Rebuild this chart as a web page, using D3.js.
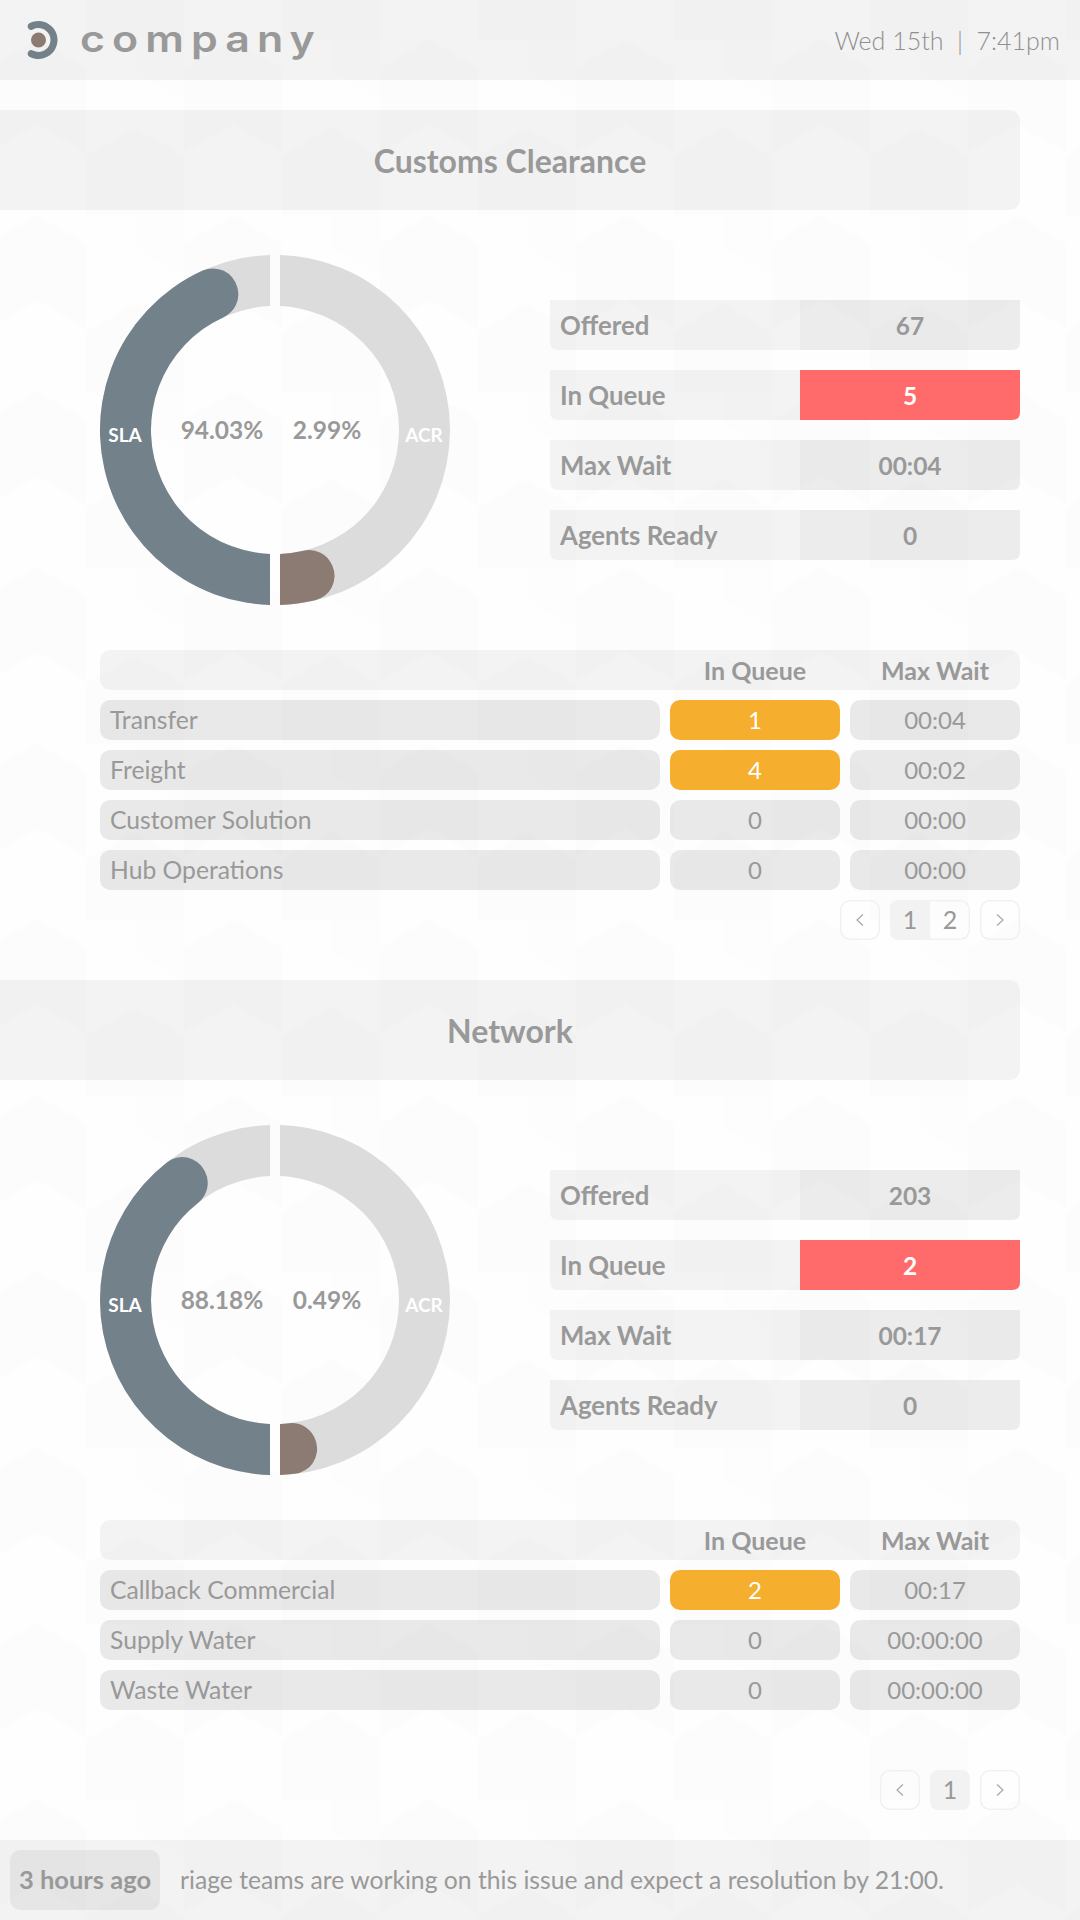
<!DOCTYPE html>
<html><head><meta charset="utf-8">
<style>html,body{margin:0;padding:0;background:#fff}svg{display:block}text{font-family:Lato,"Noto Sans",sans-serif}</style>
<script src="https://cdn.jsdelivr.net/npm/d3@7"></script></head><body>
<svg id="c" width="1080" height="1920"></svg>
<script>
// ---- data ----
const sectionTitles = ["Customs Clearance", "Network"];
const slaValues = [94.03, 88.18];
const acrValues = [2.99, 0.49];
const statLabels = ["Offered", "In Queue", "Max Wait", "Agents Ready"];
const statValues = [["67", "5", "00:04", "0"], ["203", "2", "00:17", "0"]];
const queueNames = [["Transfer", "Freight", "Customer Solution", "Hub Operations"], ["Callback Commercial", "Supply Water", "Waste Water"]];
const queueCounts = [[1, 4, 0, 0], [2, 0, 0]];
const queueWaits = [["00:04", "00:02", "00:00", "00:00"], ["00:17", "00:00:00", "00:00:00"]];
const tableHeads = ["In Queue", "Max Wait"];
const pageLists = [["1", "2"], ["1"]];
const dateText = "Wed 15th  |  7:41pm";
const footerAge = "3 hours ago";
const footerMsg = "riage teams are working on this issue and expect a resolution by 21:00.";

// ---- palette ----
const GREY = "#999", RING = "#dcdcdc", SLA = "#72818a", ACR = "#8c7b73", RED = "#ff6b6b", GOLD = "#f5ae2d";
const svg = d3.select("#c");
const defs = svg.append("defs");

// background texture
const pat = defs.append("pattern").attr("id", "tex").attr("patternUnits", "userSpaceOnUse")
  .attr("width", 196).attr("height", 176).attr("x", -12).attr("y", 40);
pat.append("rect").attr("width", 196).attr("height", 176).attr("fill", "#fefefe");
pat.append("path").attr("fill", "rgba(0,0,0,.007)").attr("d", "M0 28L49 0L98 28V112L49 84L0 112Z");
pat.append("path").attr("fill", "rgba(0,0,0,.007)").attr("d", "M98 116L147 88L196 116V176H98Z");
pat.append("path").attr("fill", "rgba(0,0,0,.005)").attr("d", "M147 0H196V60L147 30Z");
svg.append("rect").attr("width", 1080).attr("height", 1920).attr("fill", "url(#tex)");

function bottomRound(x, y, w, h, rl, rr) {
  const p = d3.path();
  p.moveTo(x, y); p.lineTo(x + w, y); p.lineTo(x + w, y + h - rr);
  p.quadraticCurveTo(x + w, y + h, x + w - rr, y + h);
  p.lineTo(x + rl, y + h); p.quadraticCurveTo(x, y + h, x, y + h - rl); p.closePath();
  return p.toString();
}
function label(g, str, x, y, size, weight, fill, anchor) {
  return g.append("text").text(str).attr("x", x).attr("y", y).attr("dy", ".35em")
    .attr("font-size", size).attr("font-weight", weight).attr("fill", fill).attr("text-anchor", anchor || "middle");
}

// header
svg.append("rect").attr("width", 1080).attr("height", 80).attr("fill", "rgba(0,0,0,.042)");
const logo = svg.append("g").attr("transform", "translate(38.5,40)");
logo.append("path").attr("fill", SLA).attr("d", d3.arc().innerRadius(12).outerRadius(19).cornerRadius(3.4)
  .startAngle(-0.72).endAngle(Math.PI + 0.72)());
logo.append("circle").attr("r", 7.5).attr("fill", ACR);
svg.append("text").text("company").attr("transform", "translate(80,52) scale(1.16,1)")
  .attr("font-size", 37).attr("font-weight", 600)
  .attr("fill", GREY).attr("letter-spacing", 6.1).style("font-family", "Inter");
label(svg, dateText, 1060, 41, 25, 300, "#8f8f8f", "end").style("white-space", "pre");

// donut geometry
const R0 = 124, R1 = 175;
const band = d3.arc().innerRadius(R0).outerRadius(R1);
const rounded = d3.arc().innerRadius(R0).outerRadius(R1).cornerRadius(25);
// value -> degrees swept along a half ring
const sweep = d3.scaleLinear().domain([0, 2.99, 88.18, 94.03, 100]).range([14.8, 22.9, 151.4, 165.2, 180]);
const rad = d => d * Math.PI / 180;

["L", "R"].forEach(s => defs.append("clipPath").attr("id", "half" + s).append("rect")
  .attr("x", s === "L" ? -200 : 5).attr("y", -200).attr("width", 195).attr("height", 400));

sectionTitles.forEach((title, i) => {
  const oy = i * 870;
  const g = svg.append("g").attr("transform", `translate(0,${oy})`);

  // title panel
  g.append("rect").attr("x", -12).attr("y", 110).attr("width", 1032).attr("height", 100).attr("rx", 10)
    .attr("fill", "rgba(0,0,0,.042)");
  label(g, title, 510, 162, 32, 700, GREY);

  // donut
  const d = g.append("g").attr("transform", "translate(275,430)");
  const left = d.append("g").attr("clip-path", "url(#halfL)");
  const right = d.append("g").attr("clip-path", "url(#halfR)");
  left.append("path").attr("fill", RING).attr("d", band({ startAngle: 0, endAngle: 2 * Math.PI }));
  right.append("path").attr("fill", RING).attr("d", band({ startAngle: 0, endAngle: 2 * Math.PI }));
  left.append("path").attr("fill", SLA)
    .attr("d", rounded({ startAngle: Math.PI - 0.6, endAngle: Math.PI + rad(sweep(slaValues[i])) }));
  right.append("path").attr("fill", ACR)
    .attr("d", rounded({ startAngle: Math.PI - rad(sweep(acrValues[i])), endAngle: Math.PI + 0.6 }));
  label(d, "SLA", -150, 5, 19, 700, "#fff");
  label(d, "ACR", 149, 5, 19, 700, "#fff");
  label(d, slaValues[i].toFixed(2) + "%", -53, 0, 24.5, 700, GREY);
  label(d, acrValues[i].toFixed(2) + "%", 52, 0, 24.5, 700, GREY);

  // stat rows
  const stats = g.selectAll("g.stat").data(statLabels).join("g").attr("class", "stat")
    .attr("transform", (_, k) => `translate(0,${300 + k * 70})`);
  stats.append("path").attr("fill", "rgba(0,0,0,.042)").attr("d", bottomRound(550, 0, 250, 50, 8, 0));
  stats.append("path").attr("fill", (_, k) => k === 1 ? RED : "rgba(0,0,0,.072)").attr("d", bottomRound(800, 0, 220, 50, 0, 8));
  stats.each(function (lab, k) {
    const r = d3.select(this);
    label(r, lab, 560, 26, 25.8, 700, GREY, "start");
    label(r, statValues[i][k], 910, 26, 24.5, 700, k === 1 ? "#fff" : GREY);
  });

  // queue table
  g.append("rect").attr("x", 100).attr("y", 650).attr("width", 920).attr("height", 40).attr("rx", 10).attr("fill", "rgba(0,0,0,.042)");
  label(g, tableHeads[0], 755, 671, 25, 700, GREY);
  label(g, tableHeads[1], 935, 671, 25, 700, GREY);
  const rows = g.selectAll("g.row").data(queueNames[i]).join("g").attr("class", "row")
    .attr("transform", (_, k) => `translate(0,${700 + k * 50})`);
  rows.append("rect").attr("x", 100).attr("width", 560).attr("height", 40).attr("rx", 10).attr("fill", "rgba(0,0,0,.082)");
  rows.append("rect").attr("x", 670).attr("width", 170).attr("height", 40).attr("rx", 10)
    .attr("fill", (_, k) => queueCounts[i][k] > 0 ? GOLD : "rgba(0,0,0,.082)");
  rows.append("rect").attr("x", 850).attr("width", 170).attr("height", 40).attr("rx", 10).attr("fill", "rgba(0,0,0,.082)");
  rows.each(function (name, k) {
    const r = d3.select(this), q = queueCounts[i][k];
    label(r, name, 110, 20.5, 24.7, 400, GREY, "start");
    label(r, q, 755, 20.5, 24, 400, q > 0 ? "#fff" : GREY);
    label(r, queueWaits[i][k], 935, 20.5, 24, 400, GREY);
  });

  // pagination
  const pages = pageLists[i], n = pages.length;
  const pg = g.append("g").attr("transform", "translate(0,900)");
  const box = (x, w) => pg.append("rect").attr("x", x + .75).attr("y", .75).attr("width", w - 1.5).attr("height", 38.5).attr("rx", 9)
    .attr("fill", "none").attr("stroke", "#f1f1f1").attr("stroke-width", 1.5);
  const pagesX = 970 - n * 40;
  const prevX = pagesX - 50;
  box(prevX, 40); box(980, 40);
  box(pagesX, n * 40);
  pg.append("path").attr("fill", "#f2f2f2").attr("d", n === 1
    ? `M${pagesX + 9} 0H${pagesX + 31}Q${pagesX + 40} 0 ${pagesX + 40} 9V31Q${pagesX + 40} 40 ${pagesX + 31} 40H${pagesX + 9}Q${pagesX} 40 ${pagesX} 31V9Q${pagesX} 0 ${pagesX + 9} 0Z`
    : `M${pagesX + 9} 0H${pagesX + 40}V40H${pagesX + 9}Q${pagesX} 40 ${pagesX} 31V9Q${pagesX} 0 ${pagesX + 9} 0Z`);
  pages.forEach((p, k) => label(pg, p, pagesX + 20 + k * 40, 20, 25, 400, GREY));
  const chev = (cx, dir) => pg.append("path").attr("fill", "none").attr("stroke", "#a8a8a8").attr("stroke-width", 1.2)
    .attr("d", `M${cx + 3 * dir} 14.5L${cx - 3 * dir} 20L${cx + 3 * dir} 25.5`);
  chev(prevX + 20, 1); chev(1000, -1);
});

// footer
svg.append("rect").attr("y", 1840).attr("width", 1080).attr("height", 80).attr("fill", "rgba(0,0,0,.042)");
svg.append("rect").attr("x", 10).attr("y", 1850).attr("width", 150).attr("height", 60).attr("rx", 10).attr("fill", "rgba(0,0,0,.05)");
label(svg, footerAge, 85, 1880, 25.5, 700, GREY);
label(svg, footerMsg, 180, 1880, 24.7, 400, GREY, "start");
</script></body></html>
